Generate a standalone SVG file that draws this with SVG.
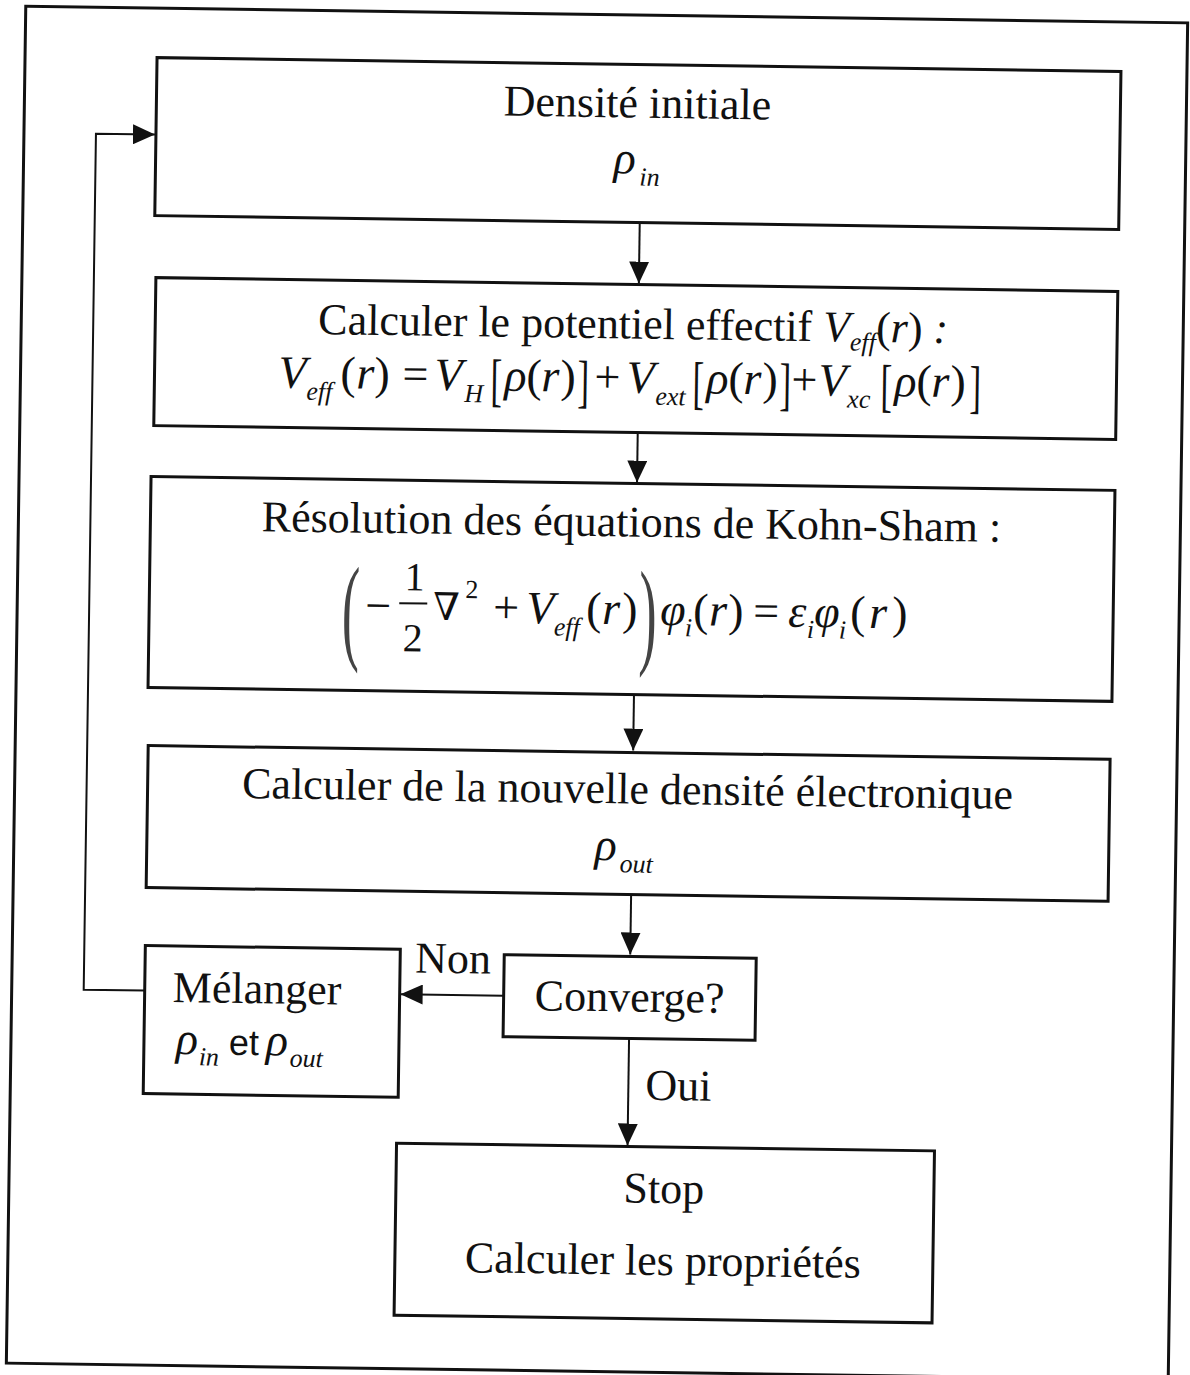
<svg xmlns="http://www.w3.org/2000/svg" width="1190" height="1375" viewBox="0 0 1190 1375">
<style>
.box{fill:none;stroke:#111;stroke-width:3}
.con{fill:none;stroke:#111;stroke-width:2}
text{font-family:"Liberation Serif","Times New Roman",serif;fill:#111;font-size:44px}
.it{font-style:italic}
.m{font-size:46px}
.sub{font-style:italic;font-size:26px}
.sup{font-size:26px}
.num{font-size:40px}
.brk{font-size:58px}
.bigp{font-size:118px;fill:#444}
.nabla{font-family:"DejaVu Serif","Liberation Serif",serif;font-size:38px}
.mid{text-anchor:middle}
.sans{font-family:"Liberation Sans",Arial,sans-serif;font-size:36px}
</style>
<defs>
<marker id="ah" viewBox="0 0 22 20" refX="22" refY="10" markerWidth="22" markerHeight="20" markerUnits="userSpaceOnUse" orient="auto">
<path d="M0,0 L22,10 L0,20 z" fill="#111"/>
</marker>
</defs>
<rect width="1190" height="1375" fill="#fff"/>
<g transform="rotate(0.82 597 693)">
<rect id="frame" x="16" y="14.5" width="1162" height="1357" class="box"/>

<g id="connectors">
<line x1="633" y1="222" x2="633" y2="283" class="con" marker-end="url(#ah)"/>
<line x1="634" y1="432" x2="634" y2="482" class="con" marker-end="url(#ah)"/>
<line x1="634" y1="694" x2="634" y2="750" class="con" marker-end="url(#ah)"/>
<line x1="634" y1="894" x2="634" y2="954" class="con" marker-end="url(#ah)"/>
<line x1="634" y1="1038" x2="634" y2="1145" class="con" marker-end="url(#ah)"/>
<line x1="508" y1="997" x2="405" y2="997" class="con" marker-end="url(#ah)"/>
<polyline points="149,997 88,997 88,141 147,141" class="con" marker-end="url(#ah)"/>
<text x="419" y="975">Non</text>
<text x="651" y="1099">Oui</text>
</g>

<g id="n1">
<rect x="148" y="64" width="964" height="158" class="box"/>
<text x="629" y="117" class="mid">Densité initiale</text>
<text x="606" y="173" class="it m">ρ</text><text x="632" y="185" class="sub">in</text>
</g>

<g id="n2">
<rect x="150" y="284" width="962" height="148" class="box"/>
<text x="313" y="338">Calculer le potentiel effectif <tspan class="it">V</tspan><tspan class="sub" dy="9">eff</tspan><tspan dy="-9">(</tspan><tspan class="it">r</tspan>) <tspan class="it">:</tspan></text>
<g class="eq1">
<text x="274" y="392" class="it m">V</text><text x="302" y="404" class="sub">eff</text>
<text x="336" y="392" class="m">(</text><text x="352" y="392" class="it m">r</text><text x="370" y="392" class="m">)</text>
<text x="398" y="392" class="m">=</text>
<text x="430" y="392" class="it m">V</text><text x="460" y="404" class="sub">H</text>
<text transform="translate(486 401) scale(0.6 1)" class="brk">[</text>
<text x="500" y="392" class="it m">ρ</text>
<text x="522" y="392" class="m">(</text><text x="537" y="392" class="it m">r</text><text x="556" y="392" class="m">)</text>
<text transform="translate(573 401) scale(0.6 1)" class="brk">]</text>
<text x="590" y="392" class="m">+</text>
<text x="622" y="392" class="it m">V</text><text x="651" y="404" class="sub">ext</text>
<text transform="translate(688 401) scale(0.6 1)" class="brk">[</text>
<text x="702" y="392" class="it m">ρ</text>
<text x="724" y="392" class="m">(</text><text x="739" y="392" class="it m">r</text><text x="758" y="392" class="m">)</text>
<text transform="translate(775 401) scale(0.6 1)" class="brk">]</text>
<text x="787" y="392" class="m">+</text>
<text x="814" y="392" class="it m">V</text><text x="843" y="404" class="sub">xc</text>
<text transform="translate(876 401) scale(0.6 1)" class="brk">[</text>
<text x="890" y="392" class="it m">ρ</text>
<text x="912" y="392" class="m">(</text><text x="927" y="392" class="it m">r</text><text x="946" y="392" class="m">)</text>
<text transform="translate(965 401) scale(0.6 1)" class="brk">]</text>
</g>
</g>

<g id="n3">
<rect x="148" y="483" width="964" height="211" class="box"/>
<text x="629" y="536" class="mid">Résolution des équations de Kohn-Sham :</text>
<g class="eq2">
<text transform="translate(341 652) scale(0.45 1)" class="bigp">(</text>
<text x="364" y="624" class="m">−</text>
<text x="403" y="593" class="num">1</text>
<line x1="398" y1="606" x2="426" y2="606" stroke="#111" stroke-width="2"/>
<text x="402" y="654" class="num">2</text>
<text x="432" y="622" class="nabla">∇</text>
<text x="464" y="600" class="sup">2</text>
<text x="492" y="624" class="m">+</text>
<text x="525" y="624" class="it m">V</text><text x="553" y="636" class="sub">eff</text>
<text x="585" y="624" class="m">(</text><text x="601" y="624" class="it m">r</text><text x="621" y="624" class="m">)</text>
<text transform="translate(638 652) scale(0.45 1)" class="bigp">)</text>
<text x="659" y="624" class="it m">φ</text><text x="684" y="635" class="sub">i</text>
<text x="692" y="624" class="m">(</text><text x="708" y="624" class="it m">r</text><text x="727" y="624" class="m">)</text>
<text x="752" y="624" class="m">=</text>
<text x="787" y="624" class="it m">ε</text><text x="806" y="635" class="sub">i</text>
<text x="813" y="624" class="it m">φ</text><text x="838" y="635" class="sub">i</text>
<text x="849" y="624" class="m">(</text><text x="868" y="624" class="it m">r</text><text x="891" y="624" class="m">)</text>
</g>
</g>

<g id="n4">
<rect x="149" y="752" width="962" height="142" class="box"/>
<text x="629" y="803" class="mid">Calculer de la nouvelle densité électronique</text>
<text x="597" y="860" class="it m">ρ</text><text x="622" y="872" class="sub">out</text>
</g>

<g id="n5">
<rect x="149" y="952" width="255" height="148" class="box"/>
<text x="177" y="1008">Mélanger</text>
<text x="181" y="1060" class="it m">ρ</text><text x="204" y="1071" class="sub">in</text><text x="234" y="1060" class="sans">et</text><text x="271" y="1060" class="it m">ρ</text><text x="295" y="1071" class="sub">out</text>
</g>

<g id="n6">
<rect x="508" y="956" width="252" height="82" class="box"/>
<text x="634" y="1011" class="mid">Converge?</text>
</g>

<g id="n7">
<rect x="403" y="1146" width="538" height="172" class="box"/>
<text x="671" y="1202" class="mid">Stop</text>
<text x="671" y="1274" class="mid">Calculer les propriétés</text>
</g>
</g>
</svg>
